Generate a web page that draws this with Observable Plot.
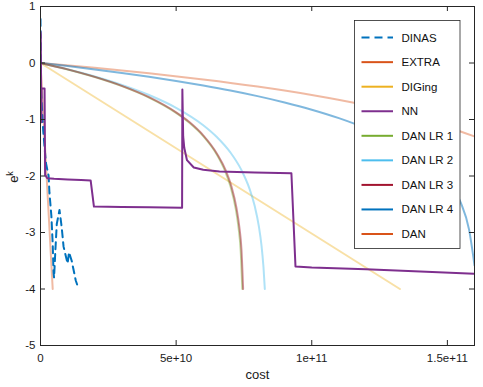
<!DOCTYPE html>
<html><head><meta charset="utf-8">
<script src="https://cdn.jsdelivr.net/npm/d3@7"></script>
<script src="https://cdn.jsdelivr.net/npm/@observablehq/plot@0.6"></script>
<style>
body{margin:0;background:#fff;}
#chart svg{display:block;}
</style>
</head><body><div id="chart"></div>
<script>
// ---- series names and colours (legend order) ----
const seriesNames  = ["DINAS","EXTRA","DIGing","NN","DAN LR 1","DAN LR 2","DAN LR 3","DAN LR 4","DAN"];
const seriesColors = ["#0072BD","#D95319","#EDB120","#7E2F8E","#77AC30","#4DBEEE","#A2142F","#0072BD","#D95319"];

// ---- tick labels ----
const xTickValues = [0, 5e10, 1e11, 1.5e11];
const xTickLabels = ["0", "5e+10", "1e+11", "1.5e+11"];
const yTickValues = [-5, -4, -3, -2, -1, 0, 1];
const yTickLabels = ["-5", "-4", "-3", "-2", "-1", "0", "1"];

// ---- series values (cost, e^k) ----
const dinasX = [0, 0.02e10, 0.1e10, 0.2e10, 0.3e10, 0.33e10, 0.4e10, 0.45e10, 0.48e10, 0.5e10, 0.55e10, 0.6e10, 0.7e10, 0.78e10, 0.85e10, 0.95e10, 1.0e10, 1.05e10, 1.15e10, 1.3e10, 1.35e10];
const dinasY = [0.78, -0.5, -1.2, -1.77, -2.0, -2.3, -2.7, -3.2, -3.7, -3.8, -3.3, -2.85, -2.6, -2.9, -3.25, -3.45, -3.55, -3.35, -3.5, -3.85, -3.92];

const extraX = [0, 0.45e10];
const extraY = [0, -4];

const digingX = [0, 13.25e10];
const digingY = [0, -4];

const nnX = [0, 0.01e10, 0.03e10, 0.04e10, 0.15e10, 0.17e10, 0.25e10, 0.5e10, 1.0e10, 1.5e10, 1.85e10, 1.97e10, 3e10, 4e10, 5.22e10, 5.23e10, 5.26e10, 5.3e10, 5.4e10, 5.65e10, 6.0e10, 6.6e10, 7.9e10, 9.25e10, 9.4e10, 10e10, 12e10, 14e10, 16e10];
const nnY = [0.55, 0.5, -1.05, -0.45, -0.45, -1.98, -2.04, -2.05, -2.06, -2.07, -2.08, -2.54, -2.55, -2.555, -2.56, -0.47, -1.3, -1.5, -1.72, -1.85, -1.89, -1.92, -1.94, -1.95, -3.6, -3.62, -3.65, -3.69, -3.73];

const danLr1X = [0, 1e10, 2e10, 3e10, 4e10, 5e10, 5.5e10, 6e10, 6.5e10, 6.8e10, 7.0e10, 7.2e10, 7.3e10, 7.38e10, 7.44e10];
const danLr1Y = [0, -0.115, -0.249, -0.41, -0.612, -0.883, -1.062, -1.293, -1.619, -1.906, -2.176, -2.586, -2.911, -3.32, -4.0];

const danLr2X = [0, 1e10, 2e10, 3e10, 4e10, 5e10, 6e10, 6.5e10, 7e10, 7.4e10, 7.7e10, 7.9e10, 8.05e10, 8.15e10, 8.22e10, 8.27e10];
const danLr2Y = [0, -0.111, -0.238, -0.387, -0.566, -0.793, -1.101, -1.309, -1.583, -1.888, -2.218, -2.537, -2.89, -3.24, -3.61, -4.0];

const danLr3X = [0, 1e10, 2e10, 3e10, 4e10, 5e10, 5.5e10, 6e10, 6.5e10, 6.83e10, 7.03e10, 7.23e10, 7.33e10, 7.41e10, 7.47e10];
const danLr3Y = [0, -0.113, -0.246, -0.405, -0.605, -0.874, -1.05, -1.28, -1.6, -1.9, -2.17, -2.58, -2.9, -3.31, -4.0];

const danLr4X = [0, 1e10, 2e10, 3e10, 4e10, 5e10, 6e10, 7e10, 8e10, 9e10, 10e10, 11e10, 12e10, 13e10, 14e10, 14.5e10, 15e10, 15.5e10, 15.8e10, 16e10];
const danLr4Y = [0, -0.055, -0.114, -0.177, -0.245, -0.318, -0.399, -0.487, -0.586, -0.698, -0.826, -0.976, -1.157, -1.387, -1.701, -1.9, -2.15, -2.48, -2.95, -3.58];

const danX = [0, 2e10, 4e10, 6e10, 8e10, 10e10, 12e10, 14e10, 15e10, 16e10];
const danY = [0, -0.086, -0.182, -0.291, -0.417, -0.566, -0.748, -0.983, -1.132, -1.30];

// ---- build tables ----
const seriesData = {
  "DINAS": [dinasX, dinasY],
  "EXTRA": [extraX, extraY],
  "DIGing": [digingX, digingY],
  "NN": [nnX, nnY],
  "DAN LR 1": [danLr1X, danLr1Y],
  "DAN LR 2": [danLr2X, danLr2Y],
  "DAN LR 3": [danLr3X, danLr3Y],
  "DAN LR 4": [danLr4X, danLr4Y],
  "DAN": [danX, danY]
};
const table = name => seriesData[name][0].map((x, i) => ({name, x, y: seriesData[name][1][i]}));
const colorOf = name => seriesColors[seriesNames.indexOf(name)];

const fadedNames = ["DAN", "DAN LR 4", "DIGing", "DAN LR 2", "DAN LR 1", "DAN LR 3", "EXTRA"];
const fadedOpacity = {"DAN": 0.4, "DAN LR 4": 0.5, "DIGing": 0.4, "DAN LR 2": 0.45, "DAN LR 1": 0.45, "DAN LR 3": 0.45, "EXTRA": 0.4};
const axisColor = "#262626";
const fontFam = "'Liberation Sans', Arial, Helvetica, sans-serif";

const chart = Plot.plot({
  width: 483,
  height: 387,
  marginLeft: 40,
  marginRight: 9,
  marginTop: 6,
  marginBottom: 42,
  style: {fontFamily: fontFam, fontSize: "11.5px", color: "#1a1a1a", background: "#fff"},
  x: {domain: [0, 1.6e11]},
  y: {domain: [-5, 1]},
  marks: [
    ...fadedNames.map(n => Plot.line(table(n), {x: "x", y: "y", stroke: colorOf(n), strokeWidth: 2, strokeOpacity: fadedOpacity[n], curve: "monotone-x", clip: true})),
    Plot.line(table("DINAS"), {x: "x", y: "y", stroke: colorOf("DINAS"), strokeWidth: 2, strokeDasharray: "7,5", clip: true}),
    Plot.line(table("NN"), {x: "x", y: "y", stroke: colorOf("NN"), strokeWidth: 2, clip: true}),
    Plot.frame({stroke: axisColor, strokeWidth: 1}),
    Plot.tickX(xTickValues, {x: d => d, insetTop: 334, stroke: axisColor}),
    Plot.tickX(xTickValues, {x: d => d, insetBottom: 334, stroke: axisColor}),
    Plot.tickY(yTickValues, {y: d => d, insetRight: 429, stroke: axisColor}),
    Plot.tickY(yTickValues, {y: d => d, insetLeft: 429, stroke: axisColor}),
    Plot.axisX(xTickValues, {tickSize: 0, tickPadding: 8, fontSize: 11.5, label: null, tickFormat: d => xTickLabels[xTickValues.indexOf(d)]}),
    Plot.axisY(yTickValues, {tickSize: 0, tickPadding: 5, fontSize: 11.5, label: null, tickFormat: d => yTickLabels[yTickValues.indexOf(d)]}),
    Plot.text(["cost"], {frameAnchor: "bottom", dy: 33, fontSize: 13, text: d => d})
  ]
});
document.getElementById("chart").appendChild(chart);

// ---- y label with superscript ----
const svg = d3.select(chart);
const yl = svg.append("text")
  .attr("transform", "translate(17.5,177) rotate(-90)")
  .attr("text-anchor", "middle")
  .attr("font-family", fontFam)
  .attr("font-size", 13)
  .attr("fill", "#1a1a1a");
yl.append("tspan").text("e");
yl.append("tspan").attr("dy", -5).attr("font-size", 9).text("k");

// ---- legend ----
const lg = svg.append("g").attr("font-family", fontFam).attr("font-size", 11.5).attr("text-anchor", "start");
lg.append("rect").attr("x", 354.5).attr("y", 20.5).attr("width", 105.5).attr("height", 228)
  .attr("fill", "#fff").attr("stroke", axisColor).attr("stroke-width", 0.8);
seriesNames.forEach((n, i) => {
  const yy = 37.6 + i * 24.55;
  lg.append("line").attr("x1", 361.5).attr("x2", 393).attr("y1", yy).attr("y2", yy)
    .attr("stroke", seriesColors[i]).attr("stroke-width", 2)
    .attr("stroke-dasharray", n === "DINAS" ? "8,5" : null);
  lg.append("text").attr("x", 401.5).attr("y", yy).attr("dy", "0.35em")
    .attr("text-anchor", "start").attr("fill", "#111").text(n);
});
</script>
</body></html>
